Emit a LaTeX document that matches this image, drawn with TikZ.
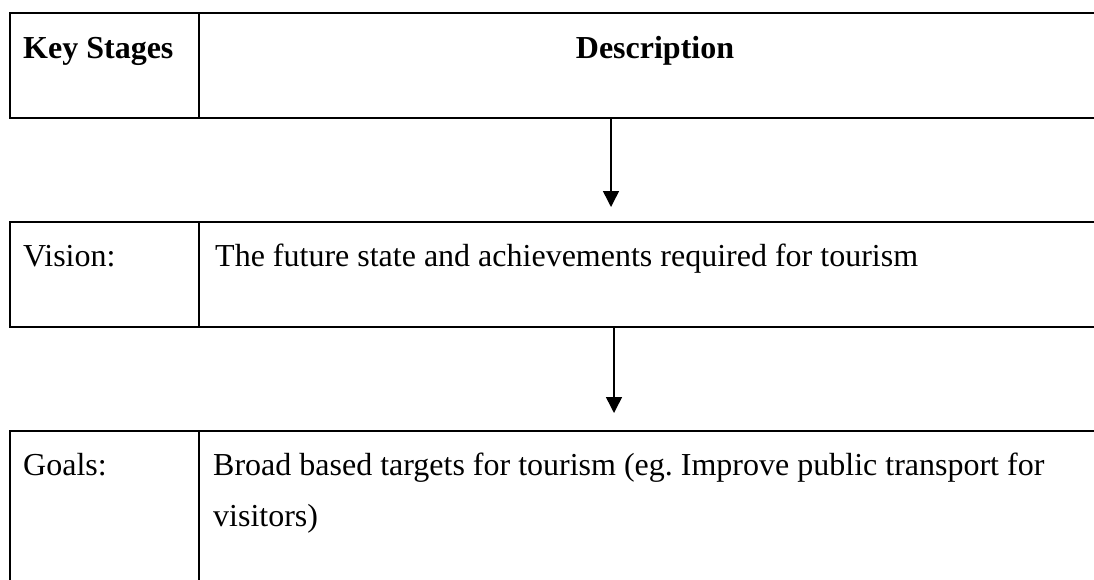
\documentclass[tikz,border=0pt]{standalone}
\usepackage{fontspec}
\setmainfont{Liberation Serif}
\usetikzlibrary{arrows.meta}
\begin{document}
\frenchspacing
\begin{tikzpicture}[x=1pt,y=-1pt,
  cell/.style={draw=black, line width=1.5pt, rectangle, inner sep=0pt, anchor=north west},
  txt/.style={inner sep=0pt, anchor=base west, font=\fontsize{32}{51}\selectfont},
  flow/.style={line width=1.5pt, -{Triangle[length=16pt,width=16pt]}}]
\useasboundingbox (0,0) rectangle (1094,579);
% header row
\node[cell, minimum width=189pt, minimum height=105pt] (hdrL) at (9,12) {};
\node[cell, minimum width=914pt, minimum height=105pt] (hdrR) at (198,12) {};
\node[txt, font=\fontsize{32}{51}\selectfont\bfseries] (tKey) at (23,58) {Key Stages};
\node[txt, anchor=base, font=\fontsize{32}{51}\selectfont\bfseries] (tDesc) at (655,58) {Description};
% vision row
\node[cell, minimum width=189pt, minimum height=105pt] (visL) at (9,221) {};
\node[cell, minimum width=914pt, minimum height=105pt] (visR) at (198,221) {};
\node[txt] (tVis) at (23,266) {Vision:};
\node[txt] (tVisD) at (215,266) {The future state and achievements required for tourism};
% goals row
\node[cell, minimum width=189pt, minimum height=180pt] (goalL) at (9,430) {};
\node[cell, minimum width=914pt, minimum height=180pt] (goalR) at (198,430) {};
\node[txt] (tGoal) at (23,475) {Goals:};
\node[txt, align=left, anchor=base west] (tGoalD) at (213,526) {Broad based targets for tourism (eg. Improve public transport for\\visitors)};
% connectors
\coordinate (a1s) at (611,117);
\coordinate (a1e) at (611,207);
\coordinate (a2s) at (614,326);
\coordinate (a2e) at (614,413);
\draw[flow] (a1s) -- (a1e);
\draw[flow] (a2s) -- (a2e);
\end{tikzpicture}
\end{document}
